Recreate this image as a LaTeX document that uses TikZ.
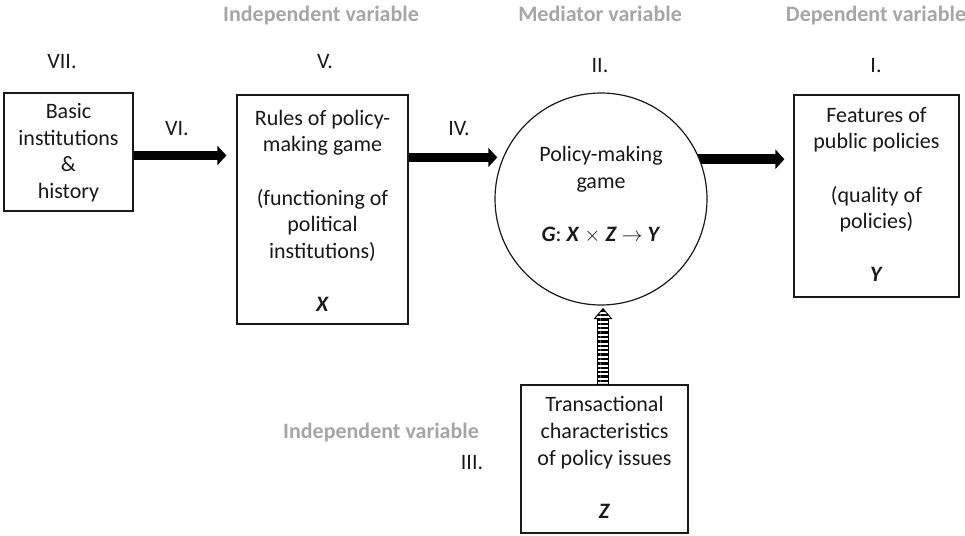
\documentclass[tikz,border=0pt]{standalone}
\usepackage{fontspec}
\setmainfont{Carlito}
\usetikzlibrary{arrows.meta,calc,patterns.meta}
\definecolor{lblgray}{RGB}{166,166,166}
\definecolor{ink}{RGB}{25,25,25}
% invisible strut fixing the top of the first line in the box texts
\newcommand\mytop{\rule{0pt}{18pt}}
\newcommand\bi[1]{\textbf{\textit{#1}}}

\begin{document}
\begin{tikzpicture}[x=1pt,y=-1pt,
  txt/.style={font=\fontsize{22}{26.6}\selectfont, text=ink, inner sep=0pt},
  boxtext/.style={txt, align=center, anchor=north},
  numeral/.style={txt, anchor=base},
  varlabel/.style={txt, font=\fontsize{22}{26.6}\selectfont\bfseries, text=lblgray, anchor=base},
  frame/.style={draw=ink, line width=1.2pt, inner sep=0pt, rectangle, fill=white},
  bigarrow/.style={line width=9.5pt, draw=black, -{Triangle[length=9pt,width=19pt]}},
  stripe/.style={draw=black, line width=0.9pt,
    pattern={Lines[angle=0,distance=4.4pt,line width=2.3pt]}, pattern color=black}
]
\useasboundingbox (0,0) rectangle (965,535);

% boxes and the central game
\node[frame, minimum width=129pt, minimum height=118pt] (b7) at (68.5,152) {};
\node[frame, minimum width=171pt, minimum height=229pt] (b5) at (322.5,209.5) {};
\node[frame, minimum width=165pt, minimum height=202pt] (b1) at (876.5,196) {};
\node[frame, minimum width=167pt, minimum height=148pt] (z) at (604.5,459) {};

% connectors between the boxes
\coordinate (a6s) at ($(b7.east)+(0,3.5)$);
\coordinate (a6e) at ($(a6s -| b5.west)+(-10,0)$);
\draw[bigarrow] (a6s) -- (a6e);

\node[circle, minimum size=212pt, inner sep=0pt] (circshape) at (601,199) {};
\coordinate (a4s) at ($(b5.north east)+(0,63)$);
\coordinate (a4e) at ($(circshape.157.2)+(-6,0)$);
\draw[bigarrow] (a4s) -- (a4s -| a4e);

\coordinate (a1s) at ($(circshape.22.8)+(-4,0)$);
\coordinate (a1e) at ($(a1s -| b1.west)+(-9,0)$);
\draw[bigarrow] (a1s) -- (a1e);

\node[circle, draw=ink, line width=1.2pt, fill=white, minimum size=212pt, inner sep=0pt] (circ) at (601,199) {};

% striped arrow from the policy issues into the game
\coordinate (tip) at ($(circ.south)+(2,3)$);
\coordinate (foot) at (tip |- z.north);
\filldraw[stripe] (tip) -- ($(tip)+(8.5,10)$) -- ($(tip)+(5.5,10)$)
  -- ($(foot)+(5.5,0)$) -- ($(foot)+(-5.5,0)$)
  -- ($(tip)+(-5.5,10)$) -- ($(tip)+(-8.5,10)$) -- cycle;

% box texts
\node[boxtext] (b7t) at (68.5,100.3) {\mytop Basic\\institutions\\\&\\history};
\node[boxtext] (b5t) at (322.5,107) {\mytop Rules of policy-\\making game\\[26.6pt](functioning of\\political\\institutions)\\[26.6pt]\bi{X}};
\node[boxtext] (b1t) at (876.5,104) {\mytop Features of\\public policies\\[26.6pt](quality of\\policies)\\[26.6pt]\bi{Y}};
\node[boxtext] (ct) at (601,143.7) {\mytop Policy-making\\game\\[26.6pt]\bi{G}: \bi{X} $\times$ \bi{Z} $\rightarrow$ \bi{Y}};
\node[boxtext] (zt) at (604.5,393.7) {\mytop Transactional\\characteristics\\of policy issues\\[26.6pt]\bi{Z}};

% roman numerals
\node[numeral] (n7) at (62,68) {VII.};
\node[numeral] (n5) at (325,68) {V.};
\node[numeral] (n6) at (177,135) {VI.};
\node[numeral] (n4) at (459,135) {IV.};
\node[numeral] (n2) at (600,72) {II.};
\node[numeral] (n1) at (876,72) {I.};
\node[numeral] (n3) at (472,469) {III.};

% variable headings
\node[varlabel] (ivtop) at (321,21.7) {Independent variable};
\node[varlabel] (mv) at (600,21.7) {Mediator variable};
\node[varlabel] (dv) at (876,21.7) {Dependent variable};
\node[varlabel] (ivlow) at (381,438) {Independent variable};
\end{tikzpicture}
\end{document}
